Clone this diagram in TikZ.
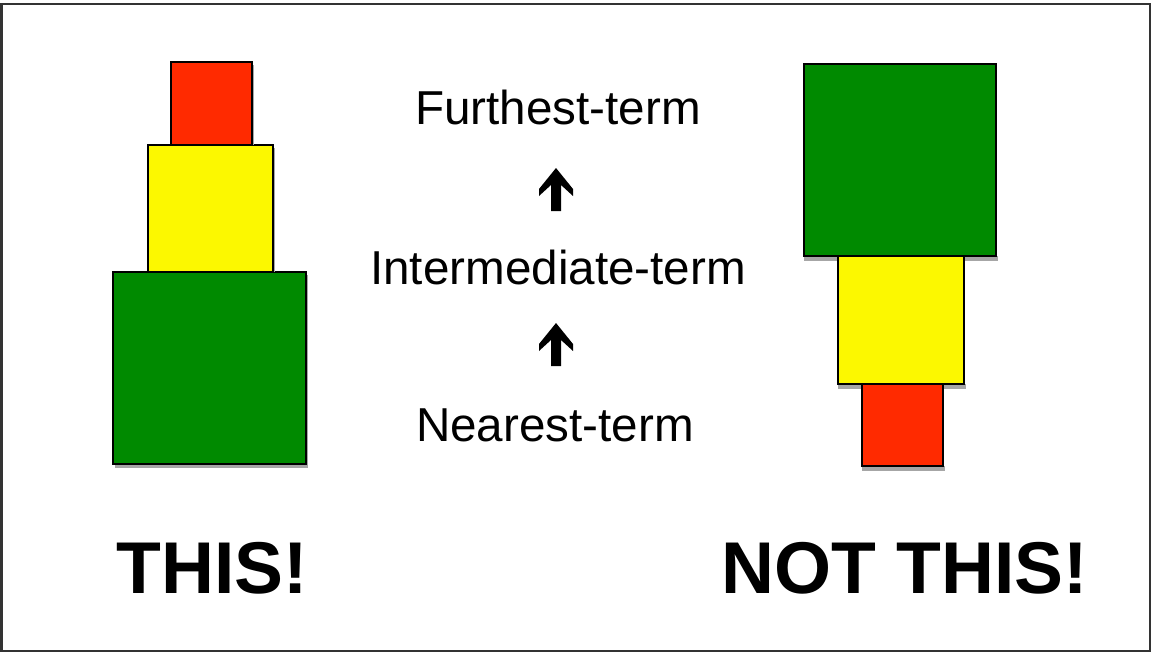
\documentclass[tikz,border=0pt]{standalone}
\usepackage{fontspec}
\setmainfont{Liberation Sans}
\definecolor{bred}{HTML}{FF2A00}
\definecolor{byel}{HTML}{FCF800}
\definecolor{bgrn}{HTML}{008A00}
\begin{document}
\begin{tikzpicture}[x=0.75pt,y=-0.75pt,
  blk/.style={draw=black,line width=1.2pt},
  shd/.style={fill=black!35,draw=none},
  lbl/.style={anchor=base,inner sep=0pt,font=\fontsize{35.7}{40}\selectfont},
  big/.style={anchor=base,inner sep=0pt,font=\fontsize{55}{60}\selectfont\bfseries},
  arr/.style={fill=black,draw=none}]
\useasboundingbox (0,0) rectangle (1152,653);
\draw[line width=1.5pt,black!80] (1.5,4) rectangle (1150,651);
% left stack (THIS!)
\fill[shd] (115,275) rectangle (308,468);
\fill[bgrn,blk] (113,272) rectangle (306,464);
\fill[shd] (150,148) rectangle (275,272);
\fill[byel,blk] (148,145) rectangle (273,272);
\fill[shd] (173,65) rectangle (254,145);
\fill[bred,blk] (171,62) rectangle (252,145);
% right stack (NOT THIS!)
\fill[shd] (804,256) rectangle (998,261);
\fill[bgrn,blk] (804,64) rectangle (996,256);
\fill[shd] (838,384) rectangle (966,389);
\fill[byel,blk] (838,256) rectangle (964,384);
\fill[shd] (862,466) rectangle (945,471);
\fill[bred,blk] (862,384) rectangle (943,466);
% labels
\node[lbl] (far) at (558,124) {Furthest-term};
\node[lbl] (mid) at (558,284) {Intermediate-term};
\node[lbl] (near) at (555,441) {Nearest-term};
\node[big] (this) at (212,593) {THIS!};
\node[big] (notthis) at (905,593) {NOT THIS!};
% arrows
\fill[arr] (556,168) -- (573,189) -- (573,196) -- (561,185) -- (561,211) -- (551,211) -- (551,185) -- (539,196) -- (539,189) -- cycle;
\fill[arr] (556,323) -- (573,344) -- (573,351) -- (561,340) -- (561,366) -- (551,366) -- (551,340) -- (539,351) -- (539,344) -- cycle;
\end{tikzpicture}
\end{document}
